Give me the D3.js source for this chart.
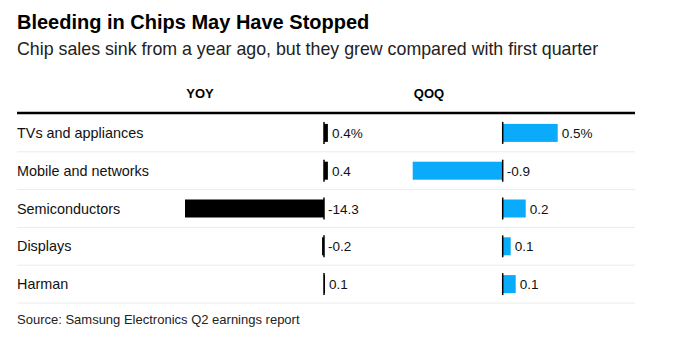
<!DOCTYPE html>
<html>
<head>
<meta charset="utf-8">
<script src="https://cdn.jsdelivr.net/npm/d3@7"></script>
<style>
  body { margin: 0; background: #fff; }
  text { font-family: "Liberation Sans", Arial, sans-serif; }
</style>
</head>
<body>
<div id="chart"></div>
<script>
// data
var categories = ["TVs and appliances", "Mobile and networks", "Semiconductors", "Displays", "Harman"];
var yoyValues = [0.4, 0.4, -14.3, -0.2, 0.1];
var yoyLabels = ["0.4%", "0.4", "-14.3", "-0.2", "0.1"];
var qoqValues = [0.55, -0.9, 0.23, 0.08, 0.13];
var qoqLabels = ["0.5%", "-0.9", "0.2", "0.1", "0.1"];

var svgWidth = 675;
var svgHeight = 342;

var svg = d3.select("#chart").append("svg")
    .attr("width", svgWidth)
    .attr("height", svgHeight);

// title + subtitle
svg.append("text")
    .attr("x", 17).attr("y", 29)
    .style("font-size", "20px")
    .style("font-weight", "bold")
    .attr("fill", "#000")
    .text("Bleeding in Chips May Have Stopped");

svg.append("text")
    .attr("x", 17).attr("y", 55)
    .style("font-size", "17.8px")
    .attr("fill", "#222")
    .text("Chip sales sink from a year ago, but they grew compared with first quarter");

// column headers
svg.append("text")
    .attr("x", 200).attr("y", 98)
    .attr("text-anchor", "middle")
    .style("font-size", "13px")
    .style("font-weight", "bold")
    .text("YOY");

svg.append("text")
    .attr("x", 429).attr("y", 98)
    .attr("text-anchor", "middle")
    .style("font-size", "13px")
    .style("font-weight", "bold")
    .text("QOQ");

// row scale
var yScale = d3.scaleBand()
    .domain(categories)
    .range([114, 303]);

var barHeight = 18;

// x scales, one per panel
var xYoy = d3.scaleLinear()
    .domain([-14.3, 0])
    .range([185, 324]);

var xQoq = d3.scaleLinear()
    .domain([-0.9, 0])
    .range([412.7, 502.7]);

// row separators
svg.append("g").selectAll("line")
    .data(categories)
    .enter()
    .append("line")
    .attr("x1", 17).attr("x2", 635)
    .attr("y1", d => yScale(d) + yScale.bandwidth())
    .attr("y2", d => yScale(d) + yScale.bandwidth())
    .attr("stroke", "#ececec")
    .attr("stroke-width", 1);

// header rule
svg.append("line")
    .attr("x1", 17).attr("x2", 635)
    .attr("y1", 113).attr("y2", 113)
    .attr("stroke", "#000")
    .attr("stroke-width", 2.5);

// category labels
svg.append("g").selectAll("text")
    .data(categories)
    .enter()
    .append("text")
    .attr("x", 17)
    .attr("y", d => yScale(d) + yScale.bandwidth() / 2 + 5)
    .style("font-size", "14.4px")
    .attr("fill", "#111")
    .text(d => d);

function drawPanel(values, labels, xScale, color) {
    var g = svg.append("g");
    var zero = xScale(0);

    g.selectAll("rect")
        .data(values)
        .enter()
        .append("rect")
        .attr("x", d => Math.min(xScale(d), zero))
        .attr("y", (d, i) => yScale(categories[i]) + yScale.bandwidth() / 2 - barHeight / 2)
        .attr("width", d => Math.abs(xScale(d) - zero))
        .attr("height", barHeight)
        .attr("fill", color);

    // zero ticks
    g.selectAll("line")
        .data(values)
        .enter()
        .append("line")
        .attr("x1", zero).attr("x2", zero)
        .attr("y1", (d, i) => yScale(categories[i]) + yScale.bandwidth() / 2 - barHeight / 2 - 2)
        .attr("y2", (d, i) => yScale(categories[i]) + yScale.bandwidth() / 2 + barHeight / 2 + 2)
        .attr("stroke", "#000")
        .attr("stroke-width", 1.5);

    // value labels
    g.selectAll("text")
        .data(values)
        .enter()
        .append("text")
        .attr("x", d => Math.max(xScale(d), zero) + 4)
        .attr("y", (d, i) => yScale(categories[i]) + yScale.bandwidth() / 2 + 5)
        .style("font-size", "13.5px")
        .attr("fill", "#111")
        .text((d, i) => labels[i]);
}

drawPanel(yoyValues, yoyLabels, xYoy, "#000");
drawPanel(qoqValues, qoqLabels, xQoq, "#0aabfa");

// source
svg.append("text")
    .attr("x", 17).attr("y", 324)
    .style("font-size", "13px")
    .attr("fill", "#222")
    .text("Source: Samsung Electronics Q2 earnings report");
</script>
</body>
</html>
